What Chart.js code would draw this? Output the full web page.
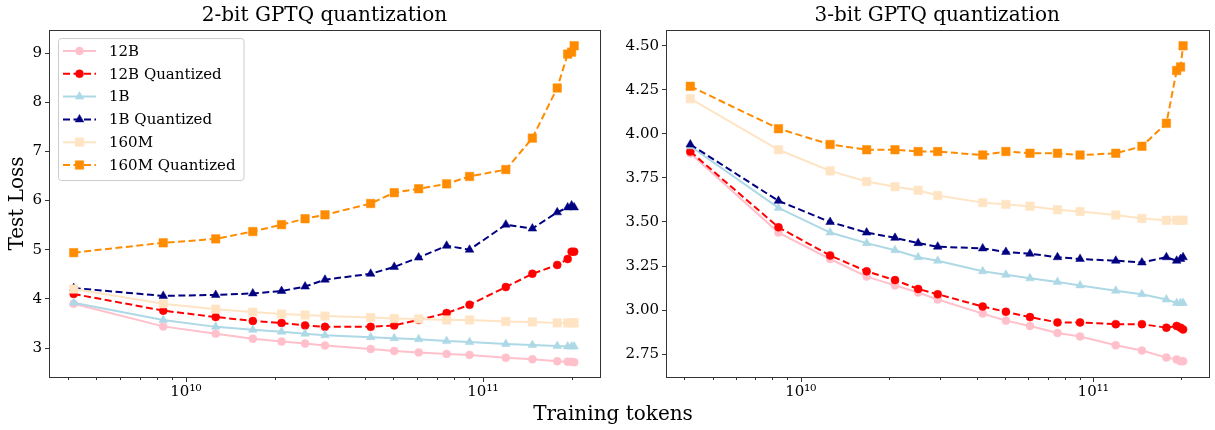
<!DOCTYPE html>
<html>
<head>
<meta charset="utf-8">
<script src="https://cdn.jsdelivr.net/npm/chart.js@4.4.1/dist/chart.umd.min.js"></script>
<style>
  html, body { margin: 0; padding: 0; background: #fff; }
  #fig { position: relative; width: 1215px; height: 430px; font-family: 'DejaVu Serif', serif; }
  .panel { position: absolute; top: 0; height: 430px; }
  #p2 { left: 0; width: 607px; }
  #p3 { left: 607px; width: 608px; }
  #xlabel { position: absolute; left: 0; top: 401px; width: 1226px; text-align: center;
            font-size: 20px; line-height: 24px; color: #000; }
</style>
</head>
<body>
<div id="fig">
  <div class="panel" id="p2"><canvas id="c2"></canvas></div>
  <div class="panel" id="p3"><canvas id="c3"></canvas></div>
  <div id="xlabel">Training tokens</div>
</div>
<script>
(function () {
  'use strict';

  /* checkpoints (training tokens) shared by both panels */
  var tokens = [4.19e9, 8.39e9, 1.26e10, 1.68e10, 2.10e10, 2.52e10, 2.94e10, 4.19e10, 5.03e10,
                6.08e10, 7.55e10, 9.02e10, 1.195e11, 1.468e11, 1.78e11, 1.93e11, 1.99e11, 2.03e11];

  var seriesLabels = ['12B', '12B Quantized', '1B', '1B Quantized', '160M', '160M Quantized'];

  /* 2-bit panel */
  var loss2_12B   = [3.90, 3.44, 3.29, 3.19, 3.13, 3.09, 3.05, 2.98, 2.94, 2.91, 2.88, 2.86, 2.80, 2.77, 2.73, 2.72, 2.72, 2.71];
  var loss2_12BQ  = [4.10, 3.76, 3.63, 3.55, 3.51, 3.46, 3.43, 3.43, 3.46, 3.57, 3.71, 3.88, 4.24, 4.51, 4.69, 4.81, 4.96, 4.96];
  var loss2_1B    = [3.92, 3.57, 3.43, 3.37, 3.33, 3.29, 3.26, 3.22, 3.20, 3.18, 3.14, 3.12, 3.08, 3.06, 3.04, 3.03, 3.03, 3.03];
  var loss2_1BQ   = [4.22, 4.06, 4.08, 4.11, 4.16, 4.25, 4.39, 4.51, 4.65, 4.84, 5.08, 5.00, 5.51, 5.43, 5.76, 5.86, 5.90, 5.86];
  var loss2_160M  = [4.20, 3.90, 3.79, 3.73, 3.69, 3.67, 3.65, 3.62, 3.60, 3.59, 3.57, 3.57, 3.54, 3.53, 3.51, 3.51, 3.51, 3.51];
  var loss2_160MQ = [4.94, 5.14, 5.22, 5.37, 5.51, 5.63, 5.71, 5.94, 6.16, 6.24, 6.34, 6.49, 6.63, 7.27, 8.29, 8.98, 9.02, 9.15];

  /* 3-bit panel */
  var loss3_12B   = [3.89, 3.44, 3.29, 3.19, 3.14, 3.10, 3.06, 2.98, 2.94, 2.91, 2.87, 2.85, 2.80, 2.77, 2.73, 2.72, 2.71, 2.71];
  var loss3_12BQ  = [3.90, 3.47, 3.31, 3.22, 3.17, 3.12, 3.09, 3.02, 2.99, 2.96, 2.93, 2.93, 2.92, 2.92, 2.90, 2.91, 2.90, 2.89];
  var loss3_1B    = [3.93, 3.58, 3.44, 3.38, 3.34, 3.30, 3.28, 3.22, 3.20, 3.18, 3.16, 3.14, 3.11, 3.09, 3.06, 3.04, 3.04, 3.04];
  var loss3_1BQ   = [3.94, 3.62, 3.50, 3.44, 3.41, 3.38, 3.36, 3.35, 3.33, 3.32, 3.30, 3.29, 3.28, 3.27, 3.30, 3.28, 3.29, 3.30];
  var loss3_160M  = [4.20, 3.91, 3.79, 3.73, 3.70, 3.68, 3.65, 3.61, 3.60, 3.59, 3.57, 3.56, 3.54, 3.52, 3.51, 3.51, 3.51, 3.51];
  var loss3_160MQ = [4.27, 4.03, 3.94, 3.91, 3.91, 3.90, 3.90, 3.88, 3.90, 3.89, 3.89, 3.88, 3.89, 3.93, 4.06, 4.36, 4.38, 4.50];

  /* axis ticks */
  var xTicks  = [4e9, 5e9, 6e9, 7e9, 8e9, 9e9, 1e10, 2e10, 3e10, 4e10, 5e10, 6e10, 7e10, 8e10, 9e10, 1e11, 2e11];
  var yTicks2 = [3, 4, 5, 6, 7, 8, 9];
  var yTicks3 = [2.75, 3.00, 3.25, 3.50, 3.75, 4.00, 4.25, 4.50];

  var FONT = "'DejaVu Serif', serif";
  var AXIS_COLOR = '#333';

  /* look of each series, same order as seriesLabels */
  var STYLES = [
    { color: 'pink',       dash: [],       point: 'circle',   radius: 4 },
    { color: 'red',        dash: [7, 3.5], point: 'circle',   radius: 4 },
    { color: 'lightblue',  dash: [],       point: 'triangle', radius: 5 },
    { color: 'navy',       dash: [7, 3.5], point: 'triangle', radius: 5 },
    { color: 'bisque',     dash: [],       point: 'rect',     radius: 6 },
    { color: 'darkorange', dash: [7, 3.5], point: 'rect',     radius: 6 }
  ];

  function buildDatasets(seriesValues) {
    return seriesValues.map(function (vals, i) {
      var st = STYLES[i];
      return {
        label: seriesLabels[i],
        data: tokens.map(function (t, k) { return { x: t, y: vals[k] }; }),
        borderColor: st.color,
        backgroundColor: st.color,
        borderWidth: 2,
        borderDash: st.dash,
        pointStyle: st.point,
        pointRadius: st.radius,
        pointBackgroundColor: st.color,
        pointBorderColor: st.color,
        pointBorderWidth: 0.5,
        tension: 0,
        order: seriesValues.length - i   // later series on top, like matplotlib
      };
    });
  }

  /* full box around the plot + major/minor x tick marks */
  var framePlugin = {
    id: 'frame',
    afterDatasetsDraw: function (chart) {
      var ctx = chart.ctx, a = chart.chartArea, xs = chart.scales.x;
      ctx.save();
      ctx.strokeStyle = AXIS_COLOR;
      ctx.lineWidth = 1;
      ctx.setLineDash([]);
      ctx.strokeRect(Math.round(a.left) + 0.5, Math.round(a.top) + 0.5,
                     Math.round(a.right - a.left), Math.round(a.bottom - a.top));
      xTicks.forEach(function (v) {
        var px = Math.round(xs.getPixelForValue(v)) + 0.5;
        var major = (v === 1e10 || v === 1e11);
        ctx.beginPath();
        ctx.moveTo(px, Math.round(a.bottom) + 0.5);
        ctx.lineTo(px, Math.round(a.bottom) + 0.5 + (major ? 4.5 : 2.5));
        ctx.stroke();
      });
      ctx.restore();
    }
  };

  /* matplotlib-style legend box in the upper left of the plot */
  var legendPlugin = {
    id: 'boxLegend',
    afterDraw: function (chart, args, opts) {
      if (!opts.show) return;
      var ctx = chart.ctx, a = chart.chartArea;
      var x0 = a.left + 9, y0 = a.top + 8, rowH = 22.8;
      var sets = chart.data.datasets;
      ctx.save();
      ctx.font = '15px ' + FONT;
      var maxW = 0;
      sets.forEach(function (ds) { maxW = Math.max(maxW, ctx.measureText(ds.label).width); });
      var w = 51 + maxW + 8, h = 13 + rowH * (sets.length - 1) + 15;

      ctx.beginPath();
      if (ctx.roundRect) ctx.roundRect(x0 + 0.5, y0 + 0.5, w, h, 3);
      else ctx.rect(x0 + 0.5, y0 + 0.5, w, h);
      ctx.fillStyle = 'rgba(255,255,255,0.8)';
      ctx.fill();
      ctx.strokeStyle = '#cccccc';
      ctx.lineWidth = 1;
      ctx.stroke();

      sets.forEach(function (ds, i) {
        var cy = y0 + 13 + i * rowH;
        ctx.strokeStyle = ds.borderColor;
        ctx.fillStyle = ds.borderColor;
        ctx.lineWidth = 2;
        ctx.setLineDash(ds.borderDash);
        ctx.beginPath();
        ctx.moveTo(x0 + 5, cy);
        ctx.lineTo(x0 + 38, cy);
        ctx.stroke();
        ctx.setLineDash([]);
        ctx.lineWidth = 0.5;
        Chart.helpers.drawPoint(ctx, { pointStyle: ds.pointStyle, radius: ds.pointRadius, rotation: 0, borderWidth: 0.5 },
                                x0 + 21.5, cy);
        ctx.fillStyle = '#000';
        ctx.textBaseline = 'middle';
        ctx.textAlign = 'left';
        ctx.fillText(ds.label, x0 + 51, cy + 1);
      });
      ctx.restore();
    }
  };

  function makePanel(canvasId, title, seriesValues, yMin, yMax, yTicks, yDecimals, yWidth, padRight, first) {
    return new Chart(document.getElementById(canvasId), {
      type: 'line',
      data: { datasets: buildDatasets(seriesValues) },
      plugins: [framePlugin, legendPlugin],
      options: {
        responsive: true,
        maintainAspectRatio: false,
        animation: false,
        events: [],
        layout: { padding: { left: 0, right: padRight, top: 0, bottom: 0 } },
        plugins: {
          legend: { display: false },
          tooltip: { enabled: false },
          boxLegend: { show: first },
          title: {
            display: true,
            text: title,
            fullSize: false,
            color: '#000',
            font: { family: FONT, size: 20, weight: 'normal', lineHeight: 1.2 },
            padding: { top: 4, bottom: 2 }
          }
        },
        scales: {
          x: {
            type: 'logarithmic',
            min: 3.46e9,
            max: 2.48e11,
            afterBuildTicks: function (scale) {
              scale.ticks = xTicks.map(function (v) { return { value: v }; });
            },
            afterFit: function (scale) { scale.height = 53; },
            grid: { display: false, drawTicks: false },
            border: { display: false },
            ticks: {
              autoSkip: false,
              maxRotation: 0,
              padding: 6,
              color: '#000',
              font: { family: FONT, size: 15 },
              callback: function (v) {
                if (v === 1e10) return '10\u00B9\u2070';
                if (v === 1e11) return '10\u00B9\u00B9';
                return '';
              }
            }
          },
          y: {
            type: 'linear',
            min: yMin,
            max: yMax,
            afterBuildTicks: function (scale) {
              scale.ticks = yTicks.map(function (v) { return { value: v }; });
            },
            afterFit: function (scale) { scale.width = yWidth; },
            grid: { display: true, drawOnChartArea: false, drawTicks: true, tickLength: 4, color: AXIS_COLOR },
            border: { display: false },
            title: {
              display: first,
              text: 'Test Loss',
              color: '#000',
              font: { family: FONT, size: 20, lineHeight: 1.2 },
              padding: { top: 6, bottom: 0 }
            },
            ticks: {
              padding: 3,
              color: '#000',
              font: { family: FONT, size: 15 },
              callback: function (v) { return Number(v).toFixed(yDecimals); }
            }
          }
        }
      }
    });
  }

  makePanel('c2', '2-bit GPTQ quantization',
    [loss2_12B, loss2_12BQ, loss2_1B, loss2_1BQ, loss2_160M, loss2_160MQ],
    2.41, 9.47, yTicks2, 0, 49, 7, true);

  makePanel('c3', '3-bit GPTQ quantization',
    [loss3_12B, loss3_12BQ, loss3_1B, loss3_1BQ, loss3_160M, loss3_160MQ],
    2.62, 4.59, yTicks3, 2, 59, 2, false);
}());
</script>
</body>
</html>
